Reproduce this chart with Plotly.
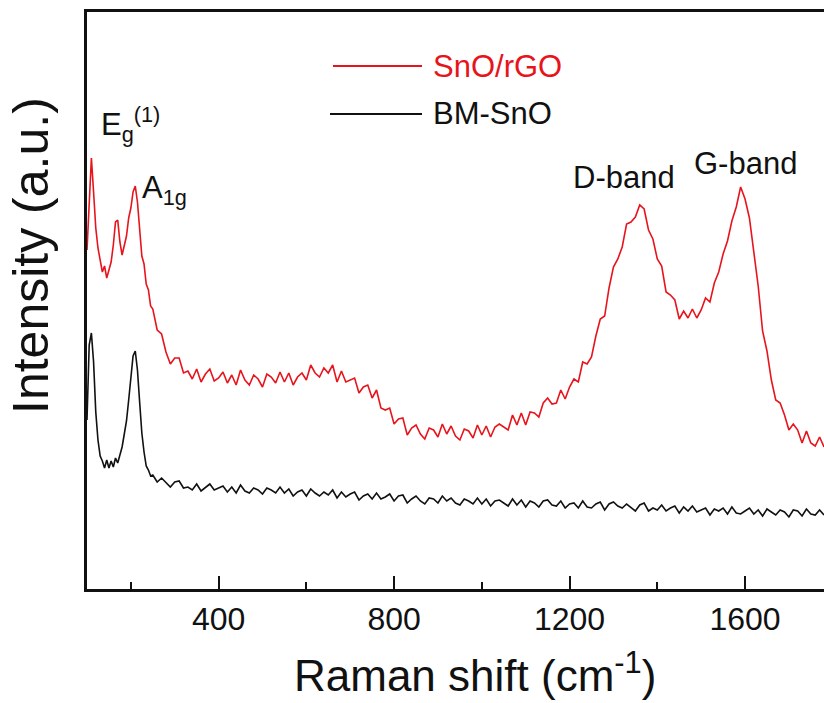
import plotly.graph_objects as go

# Raman shift grid (cm^-1): fine near the SnO peaks, coarser afterwards
shift_fine = list(range(100, 250, 5))
shift_coarse = list(range(250, 1790, 10))
raman_shift = shift_fine + shift_coarse

# SnO/rGO intensity (a.u.)
sno_rgo = [
    339, 389, 431, 397, 361, 341, 327, 317, 323, 311, 319, 327, 344, 367, 369,
    347, 334, 345, 353, 371, 381, 397, 403, 387, 361, 333, 325, 305, 299, 283,
    # 250 .. 1780
    280, 259, 255, 237, 225, 231, 231, 216, 218, 210,
    220, 207, 215, 220, 208, 211, 217, 206, 214, 204,
    219, 209, 204, 214, 210, 202, 215, 212, 206, 217,
    207, 216, 204, 212, 216, 209, 224, 216, 212, 221,
    216, 224, 207, 218, 207, 209, 211, 196, 202, 204,
    191, 199, 181, 179, 181, 165, 170, 171, 154, 161,
    164, 155, 150, 161, 159, 152, 165, 155, 163, 153,
    149, 160, 158, 151, 164, 154, 163, 152, 162, 165,
    162, 159, 174, 164, 176, 164, 177, 176, 172, 186,
    191, 185, 186, 199, 190, 202, 210, 207, 227, 225,
    232, 253, 270, 273, 301, 322, 330, 342, 365, 367,
    372, 384, 380, 359, 350, 330, 323, 297, 294, 289,
    270, 278, 271, 280, 271, 279, 291, 287, 306, 317,
    335, 348, 368, 382, 402, 390, 371, 336, 303, 258,
    238, 209, 189, 186, 174, 159, 165, 159, 146, 158,
    146, 143, 152, 142,
]

# BM-SnO intensity (a.u.)
bm_sno = [
    169, 244, 256, 227, 177, 149, 133, 128, 121, 129, 121, 128, 122, 131, 126,
    135, 142, 155, 168, 189, 213, 233, 238, 219, 187, 156, 137, 123, 119, 113,
    # 250 .. 1780
    114, 107, 111, 106, 102, 107, 108, 101, 102, 99,
    105, 98, 102, 105, 99, 101, 103, 97, 102, 96,
    104, 98, 96, 101, 99, 95, 101, 99, 96, 102,
    96, 100, 93, 97, 99, 93, 100, 96, 93, 97,
    94, 99, 91, 97, 92, 95, 97, 89, 93, 95,
    90, 96, 90, 92, 95, 88, 93, 94, 86, 90,
    93, 88, 85, 91, 90, 86, 93, 88, 91, 86,
    84, 90, 88, 85, 91, 85, 90, 83, 88, 89,
    86, 83, 90, 84, 89, 82, 88, 86, 82, 88,
    89, 84, 83, 88, 81, 85, 86, 81, 88, 82,
    81, 85, 87, 79, 85, 87, 83, 81, 85, 81,
    78, 84, 86, 78, 81, 79, 84, 78, 81, 83,
    76, 82, 78, 83, 77, 79, 81, 74, 80, 78,
    81, 75, 82, 76, 75, 78, 81, 75, 79, 73,
    80, 77, 74, 79, 77, 72, 79, 78, 73, 80,
    75, 74, 79, 74,
]

series_names = ["SnO/rGO", "BM-SnO"]
series_colors = ["#e8141c", "#111111"]
x_tick_values = [400, 800, 1200, 1600]
x_tick_labels = ["400", "800", "1200", "1600"]

FONT = "Liberation Sans, Arial, sans-serif"

fig = go.Figure()
for name, vals, col in zip(series_names, [sno_rgo, bm_sno], series_colors):
    fig.add_trace(go.Scatter(x=raman_shift, y=vals, mode="lines", name=name,
                             line=dict(color=col, width=1.6), showlegend=False))

W, H = 824, 703
L, R, T, B = 87, 0, 12, 114
pw, ph = W - L - R, H - T - B

def px(xp):
    return (xp - L) / pw

def py(yp):
    return (H - B - yp) / ph

fig.update_layout(
    width=W, height=H,
    margin=dict(l=L, r=R, t=T, b=B),
    paper_bgcolor="white", plot_bgcolor="white",
    font=dict(family=FONT, color="#111111"),
    xaxis=dict(
        range=[100, 1780], showgrid=False, zeroline=False,
        showline=True, linecolor="#111111", linewidth=2.5, mirror=True,
        tickmode="array", tickvals=x_tick_values, ticktext=x_tick_labels,
        ticks="inside", ticklen=13, tickwidth=2, tickcolor="#111111",
        tickfont=dict(size=32, family=FONT, color="#111111"),
        minor=dict(tickmode="array", tickvals=[200, 600, 1000, 1400],
                   ticks="inside", ticklen=7, tickwidth=2, tickcolor="#111111"),
    ),
    yaxis=dict(
        range=[0, 577], showgrid=False, zeroline=False,
        showline=True, linecolor="#111111", linewidth=2.5,
        showticklabels=False, ticks="",
    ),
)

# Legend drawn by hand (long line samples)
legend_rows = [(66, series_names[0], series_colors[0], 333),
               (114, series_names[1], series_colors[1], 330)]
for yp, name, col, x0 in legend_rows:
    fig.add_shape(type="line", xref="paper", yref="paper",
                  x0=px(x0), x1=px(422), y0=py(yp), y1=py(yp),
                  line=dict(color=col, width=2))
    fig.add_annotation(xref="paper", yref="paper", x=px(431), y=py(yp),
                       xanchor="left", yanchor="middle", showarrow=False,
                       text=name, font=dict(size=31, color=col, family=FONT))

# Peak labels
labels = [
    ("E<sub>g</sub><sup>(1)</sup>", 99, 124, "left"),
    ("A<sub>1g</sub>", 140, 190, "left"),
    ("D-band", 624, 177, "center"),
    ("G-band", 745, 163, "center"),
]
for txt, xp, yp, anc in labels:
    fig.add_annotation(xref="paper", yref="paper", x=px(xp), y=py(yp),
                       xanchor=anc, yanchor="middle", showarrow=False,
                       text=txt, font=dict(size=31, color="#111111", family=FONT))

# Axis titles
fig.add_annotation(xref="paper", yref="paper", x=px(475), y=py(672),
                   xanchor="center", yanchor="middle", showarrow=False,
                   text="Raman shift (cm<sup>-1</sup>)",
                   font=dict(size=44, color="#111111", family=FONT))
fig.add_annotation(xref="paper", yref="paper", x=px(31), y=py(256),
                   xanchor="center", yanchor="middle", showarrow=False,
                   textangle=-90, text="Intensity (a.u.)",
                   font=dict(size=50, color="#111111", family=FONT))

fig.write_html("out.html")
